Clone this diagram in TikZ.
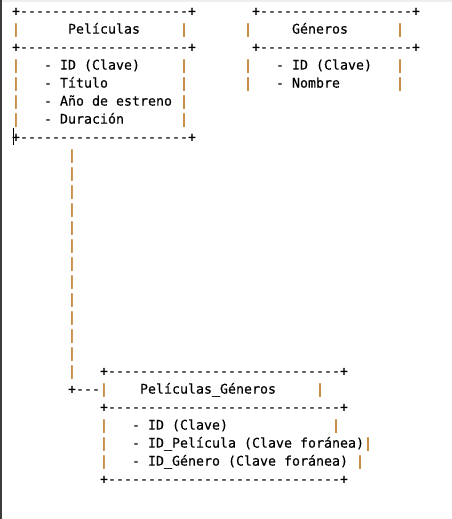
\documentclass[tikz,border=0pt]{standalone}
\usepackage{fontspec}
\setmonofont[FakeBold=0.3]{DejaVu Sans Mono}
\definecolor{pipecol}{RGB}{188,110,24}
\definecolor{edgecol}{RGB}{60,60,60}
\definecolor{topcol}{RGB}{238,238,238}
\newcommand\cellat[5]{\node[#1] (#2) at ({12+8*#4},{15.6+18*#3}) {#5};}
\begin{document}
\begin{tikzpicture}[x=1pt,y=-1pt,
  txt/.style={anchor=base west, inner sep=0pt, outer sep=0pt,
    font=\ttfamily\fontsize{13.29pt}{18pt}\selectfont, text=black},
  pipe/.style={txt, font=\ttfamily\bfseries\fontsize{13.29pt}{18pt}\selectfont, text=pipecol}]
\fill[white] (0,0) rectangle (452,519);
\useasboundingbox (0,0) rectangle (452,519);
\fill[topcol] (0,0) rectangle (452,2);
\fill[edgecol] (0,0) rectangle (1.5,519);
% Box 1: Peliculas
\cellat{txt}{b1top}{0}{0}{+---------------------+}
\cellat{pipe}{b1l1}{1}{0}{|}
\cellat{txt}{b1title}{1}{7}{Películas}
\cellat{pipe}{b1r1}{1}{21}{|}
\cellat{txt}{b1mid}{2}{0}{+---------------------+}
\cellat{pipe}{b1l3}{3}{0}{|}
\cellat{txt}{b1a}{3}{4}{- ID (Clave)}
\cellat{pipe}{b1r3}{3}{21}{|}
\cellat{pipe}{b1l4}{4}{0}{|}
\cellat{txt}{b1b}{4}{4}{- Título}
\cellat{pipe}{b1r4}{4}{21}{|}
\cellat{pipe}{b1l5}{5}{0}{|}
\cellat{txt}{b1c}{5}{4}{- Año de estreno}
\cellat{pipe}{b1r5}{5}{21}{|}
\cellat{pipe}{b1l6}{6}{0}{|}
\cellat{txt}{b1d}{6}{4}{- Duración}
\cellat{pipe}{b1r6}{6}{21}{|}
\cellat{txt}{b1bot}{7}{0}{+---------------------+}
% Box 2: Generos
\cellat{txt}{b2top}{0}{30}{+-------------------+}
\cellat{pipe}{b2l1}{1}{29}{|}
\cellat{txt}{b2title}{1}{35}{Géneros}
\cellat{pipe}{b2r1}{1}{48}{|}
\cellat{txt}{b2mid}{2}{30}{+-------------------+}
\cellat{pipe}{b2l3}{3}{29}{|}
\cellat{txt}{b2a}{3}{33}{- ID (Clave)}
\cellat{pipe}{b2r3}{3}{48}{|}
\cellat{pipe}{b2l4}{4}{29}{|}
\cellat{txt}{b2b}{4}{33}{- Nombre}
\cellat{pipe}{b2r4}{4}{48}{|}
% Connector
\foreach \r in {8,...,20}{\cellat{pipe}{c\r}{\r}{7}{|}}
\cellat{txt}{c21}{21}{7}{+---}
% Box 3: Peliculas_Generos
\cellat{txt}{b3top}{20}{11}{+-----------------------------+}
\cellat{pipe}{b3l1}{21}{11}{|}
\cellat{txt}{b3title}{21}{16}{Películas\_Géneros}
\cellat{pipe}{b3r1}{21}{38}{|}
\cellat{txt}{b3mid}{22}{11}{+-----------------------------+}
\cellat{pipe}{b3l3}{23}{11}{|}
\cellat{txt}{b3a}{23}{15}{- ID (Clave)}
\cellat{pipe}{b3r3}{23}{40}{|}
\cellat{pipe}{b3l4}{24}{11}{|}
\cellat{txt}{b3b}{24}{15}{- ID\_Película (Clave foránea)}
\cellat{pipe}{b3r4}{24}{44}{|}
\cellat{pipe}{b3l5}{25}{11}{|}
\cellat{txt}{b3c}{25}{15}{- ID\_Género (Clave foránea)}
\cellat{pipe}{b3r5}{25}{43}{|}
\cellat{txt}{b3bot}{26}{11}{+-----------------------------+}
% text cursor
\draw[line width=1pt] (13.3,128) -- (13.3,145);
\end{tikzpicture}
\end{document}
